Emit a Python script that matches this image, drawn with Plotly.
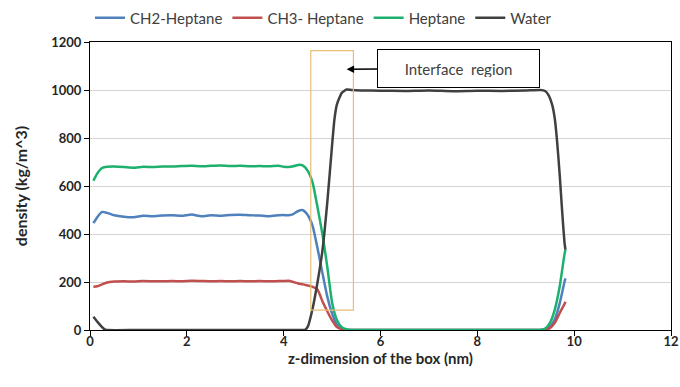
import plotly.graph_objects as go

# ---- data ----
x_hep = [0.07, 0.15, 0.25, 0.35, 0.5, 0.7, 0.9, 1.1, 1.3, 1.5, 1.7, 1.9, 2.1, 2.3, 2.5, 2.7, 2.9,
         3.1, 3.3, 3.5, 3.7, 3.9, 4.0, 4.1, 4.2, 4.3, 4.4, 4.5, 4.6, 4.7, 4.8, 4.9, 5.0, 5.1, 5.2,
         5.3, 5.4, 6.0, 7.0, 8.0, 9.0, 9.3, 9.4, 9.5, 9.6, 9.7, 9.8, 9.82]
heptane = [622, 652, 675, 680, 681, 679, 676, 680, 679, 681, 681, 683, 684, 682, 684, 685, 683,
           684, 682, 683, 682, 684, 680, 679, 682, 688, 685, 662, 612, 510, 400, 265, 115, 42, 12,
           3, 0, 0, 0, 0, 0, 0, 6, 30, 85, 180, 315, 335]
ch2 = [445, 470, 492, 488, 478, 472, 470, 476, 474, 477, 478, 476, 481, 474, 478, 476, 479,
       480, 478, 477, 474, 478, 479, 478, 483, 496, 499, 478, 432, 340, 238, 140, 68, 22, 5,
       0, 0, 0, 0, 0, 0, 0, 3, 15, 45, 110, 200, 215]
ch3 = [180, 182, 190, 198, 202, 203, 202, 204, 203, 203, 204, 203, 205, 204, 203, 204, 203,
       204, 203, 204, 203, 204, 204, 205, 200, 194, 190, 185, 180, 168, 120, 78, 40, 12, 3,
       0, 0, 0, 0, 0, 0, 0, 1, 8, 30, 70, 108, 118]

x_wat = [0.07, 0.15, 0.25, 0.3, 0.35, 1.0, 2.0, 3.0, 4.0, 4.4, 4.45, 4.5, 4.6, 4.7, 4.8, 4.9, 5.0,
         5.05, 5.1, 5.2, 5.3, 5.4, 5.6, 6.0, 6.5, 7.0, 7.5, 8.0, 8.5, 9.0, 9.3, 9.4, 9.47, 9.55,
         9.6, 9.65, 9.7, 9.75, 9.8, 9.82]
water = [55, 35, 12, 3, 0, 0, 0, 0, 0, 0, 2, 15, 92, 200, 330, 530, 770,
         880, 940, 988, 1002, 1000, 998, 997, 996, 998, 995, 997, 996, 998, 1000, 996, 979, 935,
         880, 780, 650, 500, 365, 335]

names = ["CH2-Heptane", "CH3- Heptane", "Heptane", "Water"]
colors = ["#4F81BD", "#C0504D", "#1DB06E", "#404040"]

x_ticks = [0, 2, 4, 6, 8, 10, 12]
y_ticks = [0, 200, 400, 600, 800, 1000, 1200]

FONT = "Lato, 'Open Sans', sans-serif"

fig = go.Figure()
series = [(x_hep, ch2), (x_hep, ch3), (x_hep, heptane), (x_wat, water)]
for (xs, ys), n, c in zip(series, names, colors):
    fig.add_trace(go.Scatter(x=xs, y=ys, mode="lines", name=n,
                             line=dict(color=c, width=2.5, shape="spline", smoothing=0.5)))

# interface region rectangle
fig.add_shape(type="rect", xref="x", yref="y", x0=4.56, x1=5.44, y0=83, y1=1164,
              line=dict(color="#E8BE78", width=1.2), fillcolor="rgba(0,0,0,0)")

fig.add_annotation(x=5.30, y=1086, xref="x", yref="y", text="Interface  region",
                   showarrow=True, ax=112, ay=-1, axref="pixel", ayref="pixel",
                   arrowhead=2, arrowsize=1, arrowwidth=1.5, arrowcolor="#000000",
                   bordercolor="#000000", borderwidth=1, borderpad=10, bgcolor="#FFFFFF",
                   width=141, height=17,
                   font=dict(family=FONT, size=15, color="#404040"))

fig.update_layout(
    width=680, height=387,
    margin=dict(l=90, r=9, t=42, b=57),
    paper_bgcolor="white", plot_bgcolor="white",
    font=dict(family=FONT, size=12, color="#262626"),
    showlegend=True,
    legend=dict(orientation="h", x=0.0, xanchor="left", y=1 - 18 / 387, yanchor="middle",
                yref="container",
                font=dict(family=FONT, size=15, color="#404040"),
                itemwidth=30, tracegroupgap=0, bgcolor="rgba(0,0,0,0)"),
    xaxis=dict(range=[0, 12], tickvals=x_ticks, ticktext=[str(v) for v in x_ticks],
               automargin=False,
               showgrid=False, zeroline=False, showline=True, linecolor="#000000", linewidth=1.2,
               mirror=True, ticks="outside", ticklen=5, tickcolor="#000000",
               ticklabelstandoff=-6,
               tickfont=dict(family=FONT, size=13, color="#262626", weight="bold"),
               title=dict(text="<b>z-dimension of the box (nm)</b>", standoff=0,
                          font=dict(family=FONT, size=15, color="#262626"))),
    yaxis=dict(range=[0, 1200], tickvals=y_ticks, ticktext=[str(v) for v in y_ticks],
               automargin=False,
               showgrid=True, gridcolor="#D4D4D4", gridwidth=1, zeroline=False,
               showline=True, linecolor="#000000", linewidth=1.2, mirror=True,
               ticks="outside", ticklen=5, tickcolor="#000000",
               tickfont=dict(family=FONT, size=13, color="#262626", weight="bold"),
               title=dict(text="<b>density (kg/m^3)</b>", standoff=19,
                          font=dict(family=FONT, size=16, color="#262626"))),
)

fig.write_html("out.html")
